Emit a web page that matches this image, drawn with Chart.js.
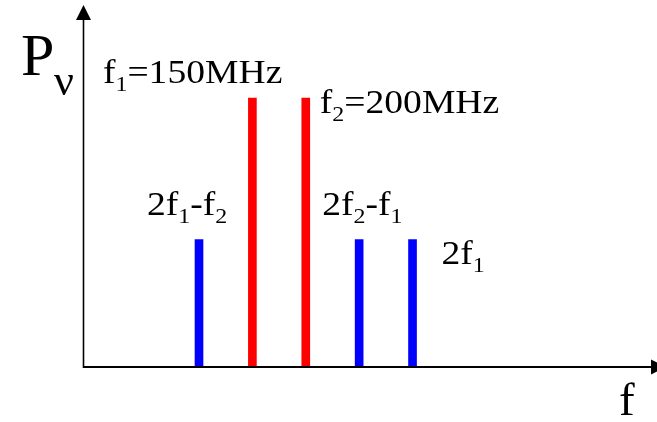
<!DOCTYPE html>
<html>
<head>
<meta charset="utf-8">
<script src="https://cdn.jsdelivr.net/npm/chart.js@4/dist/chart.umd.min.js"></script>
<style>
  html, body { margin: 0; padding: 0; background: #fff; overflow: hidden; }
  #wrap { width: 657px; height: 422px; }
</style>
</head>
<body>
<div id="wrap"><canvas id="c" width="657" height="422"></canvas></div>
<script>
// Two pump tones (MHz) and their relative power
const pumpFreqs = [150, 200];
const pumpPower = [1.0, 1.0];
// Third-order intermodulation / harmonic products (MHz) and relative power
const imdFreqs = [100, 250, 300];
const imdPower = [0.474, 0.474, 0.474];

// Rich-text labels: [text, isSubscript]
const pumpLabels = [
  [['f', 0], ['1', 1], ['=150MHz', 0]],
  [['f', 0], ['2', 1], ['=200MHz', 0]]
];
const imdLabels = [
  [['2f', 0], ['1', 1], ['-f', 0], ['2', 1]],
  [['2f', 0], ['2', 1], ['-f', 0], ['1', 1]],
  [['2f', 0], ['1', 1]]
];

const SERIF = '"Liberation Serif", "Times New Roman", serif';

function drawRich(ctx, parts, x, y, size, subSize, subDrop, sx) {
  ctx.save();
  ctx.translate(x, y);
  ctx.scale(sx, 1);
  ctx.textAlign = 'left';
  ctx.textBaseline = 'alphabetic';
  ctx.fillStyle = '#000';
  let cx = 0;
  for (const [t, sub] of parts) {
    ctx.font = (sub ? subSize : size) + 'px ' + SERIF;
    ctx.fillText(t, cx, sub ? subDrop : 0);
    cx += ctx.measureText(t).width;
  }
  ctx.restore();
}

// Label placement relative to each line's top (pixels)
const pumpLabelOffsets = [[-149.5, -15], [14, 15]];
const imdLabelOffsets = [[-52, -24.5], [-37, -24.5], [29, 24]];

const spectrumDecor = {
  id: 'spectrumDecor',
  afterDraw(chart) {
    const ctx = chart.ctx;
    const { left, bottom, top, right } = chart.chartArea;
    const xs = chart.scales.x, ys = chart.scales.y;
    ctx.save();
    ctx.strokeStyle = '#000';
    ctx.fillStyle = '#000';

    // Vertical axis with arrow
    ctx.lineWidth = 1.6;
    ctx.beginPath();
    ctx.moveTo(left, bottom + 1);
    ctx.lineTo(left, top + 15);
    ctx.stroke();
    ctx.beginPath();
    ctx.moveTo(left, top);
    ctx.lineTo(left - 7.5, top + 15);
    ctx.lineTo(left + 7.5, top + 15);
    ctx.closePath();
    ctx.fill();

    // Horizontal axis with arrow
    ctx.lineWidth = 2;
    ctx.beginPath();
    ctx.moveTo(left, bottom);
    ctx.lineTo(right - 6, bottom);
    ctx.stroke();
    ctx.beginPath();
    ctx.moveTo(right + 9, bottom);
    ctx.lineTo(right - 6, bottom - 7.5);
    ctx.lineTo(right - 6, bottom + 7.5);
    ctx.closePath();
    ctx.fill();

    // Axis titles
    ctx.textAlign = 'left';
    ctx.textBaseline = 'alphabetic';
    ctx.font = '60px ' + SERIF;
    ctx.fillText('P', 21, 75);
    ctx.font = '44px ' + SERIF;
    ctx.fillText('\u03BD', 54, 95);
    ctx.font = '47px ' + SERIF;
    ctx.fillText('f', 619, 415);

    // Line labels
    const sx = 1.14;
    pumpFreqs.forEach((f, i) => {
      const px = xs.getPixelForValue(f), py = ys.getPixelForValue(pumpPower[i]);
      drawRich(ctx, pumpLabels[i], px + pumpLabelOffsets[i][0], py + pumpLabelOffsets[i][1], 33, 21, 8, sx);
    });
    imdFreqs.forEach((f, i) => {
      const px = xs.getPixelForValue(f), py = ys.getPixelForValue(imdPower[i]);
      drawRich(ctx, imdLabels[i], px + imdLabelOffsets[i][0], py + imdLabelOffsets[i][1], 33, 21, 8, sx);
    });
    ctx.restore();
  }
};

new Chart(document.getElementById('c'), {
  type: 'bar',
  data: {
    datasets: [
      {
        label: 'Pump tones',
        data: pumpFreqs.map((f, i) => ({ x: f, y: pumpPower[i] })),
        backgroundColor: '#ff0000',
        barThickness: 8,
        grouped: false
      },
      {
        label: 'Intermodulation products',
        data: imdFreqs.map((f, i) => ({ x: f, y: imdPower[i] })),
        backgroundColor: '#0000ff',
        barThickness: 8,
        grouped: false
      }
    ]
  },
  options: {
    responsive: false,
    devicePixelRatio: 1,
    animation: false,
    layout: { padding: { left: 83.5, top: 5, right: 0, bottom: 55 } },
    plugins: { legend: { display: false }, tooltip: { enabled: false } },
    scales: {
      x: { type: 'linear', min: -8.2, max: 529, offset: false, display: false },
      y: { min: 0, max: 1.346, display: false }
    }
  },
  plugins: [spectrumDecor]
});
</script>
</body>
</html>
